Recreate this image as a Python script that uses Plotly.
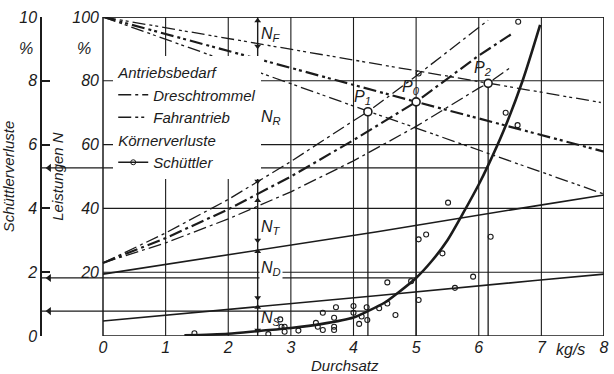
import plotly.graph_objects as go

# ------------------------------------------------------------------ data
X_TICKS = [0, 1, 2, 3, 4, 5, 6, 7, 8]
X_TICK_TEXT = ["0", "1", "2", "3", "4", "5", "6", "7", "8"]
N_TICKS = [20, 40, 60, 80, 100]
N_TICK_TEXT = ["20", "40", "60", "80", "100"]
LOSS_TICKS = [0, 2, 4, 6, 8, 10]
LOSS_TICK_TEXT = ["0", "2", "4", "6", "8", "10"]

# Antriebsbedarf Dreschtrommel (rising curves), one per operating point
DRUM_P1_X = [0, 1, 2, 3, 4, 4.23, 5, 6, 6.15]
DRUM_P1_Y = [22.9, 32.3, 42.8, 54.7, 67.5, 70.3, 81.5, 96.8, 99.0]
DRUM_P0_X = [0, 1, 2, 3, 4, 5, 6, 6.55]
DRUM_P0_Y = [22.9, 30.7, 39.7, 50.0, 61.4, 73.4, 87.9, 95.0]
DRUM_P2_X = [0, 1, 2, 3, 4, 5, 6, 6.15, 6.5]
DRUM_P2_Y = [22.9, 29.2, 36.7, 45.2, 54.9, 65.7, 77.7, 79.2, 84.1]

# Antriebsbedarf Fahrantrieb (falling lines: 100 % minus drive power)
DRIVE_P1_X = [0, 4.23, 8]
DRIVE_P1_Y = [100, 70.5, 44.5]
DRIVE_P0_X = [0, 5, 8]
DRIVE_P0_Y = [100, 73.4, 57.8]
DRIVE_P2_X = [0, 6.15, 7.95]
DRIVE_P2_Y = [100, 79.2, 73.2]

# further power lines
LINE_A_X = [0, 2.48, 4.38, 6.91, 8]
LINE_A_Y = [19.4, 27.0, 32.7, 40.8, 44.2]
LINE_B_X = [0, 1.5, 4.4, 6.9, 8]
LINE_B_Y = [4.7, 7.4, 12.7, 17.4, 19.4]

# Körnerverluste Schüttler (%), fitted curve and measured points
LOSS_CURVE_X = [1.3, 2.0, 2.5, 3.0, 3.5, 4.0, 4.23, 4.5, 4.7, 5.0, 5.25, 5.5,
                5.75, 6.0, 6.15, 6.4, 6.7, 6.98]
LOSS_CURVE_Y = [0.02, 0.07, 0.16, 0.25, 0.38, 0.58, 0.78, 1.05, 1.34, 1.82, 2.35,
                3.0, 3.85, 4.75, 5.35, 6.45, 8.0, 9.75]
LOSS_PTS_X = [1.46, 2.64, 2.83, 2.85, 2.9, 2.9, 3.12, 3.4, 3.43, 3.51, 3.51, 3.69,
              3.69, 3.69, 3.72, 4.0, 4.0, 4.09, 4.13, 4.21, 4.22, 4.41, 4.54, 4.54,
              4.67, 4.92, 5.04, 5.16, 5.42, 5.51, 5.62, 5.91, 5.04, 6.19, 6.43, 6.62,
              5.04, 6.63]
LOSS_PTS_Y = [0.085, 0.06, 0.52, 0.29, 0.29, 0.135, 0.17, 0.41, 0.29, 0.73, 0.19,
              0.57, 0.29, 0.19, 0.9, 0.94, 0.73, 0.38, 0.61, 0.9, 0.5, 0.87, 1.68,
              1.02, 0.66, 1.72, 3.03, 3.18, 2.59, 4.18, 1.51, 1.86, 1.13, 3.11, 7.0,
              6.61, 8.23, 9.85]

# operating points P1, P0, P2
P_NAMES = ["P<sub>1</sub>", "P<sub>0</sub>", "P<sub>2</sub>"]
P_X = [4.23, 5.0, 6.15]
P_N = [70.3, 73.4, 79.2]
P_LOSS = [0.78, 1.82, 5.27]

# power shares at the marked throughput
N_X = 2.47
N_NAMES = ["N<sub>F</sub>", "N<sub>R</sub>", "N<sub>T</sub>", "N<sub>D</sub>", "N<sub>S</sub>"]
N_LABEL_Y = [94.5, 68.5, 33.9, 21.3, 5.5]
N_ARROW_UP = [98.8, 86.0, 42.5, 26.5, 9.0]
N_ARROW_DOWN = [90.8, 48.5, 30.0, 12.0, 1.8]

# ------------------------------------------------------------------ style
FONT = "Liberation Sans Narrow, Liberation Sans, DejaVu Sans Condensed, sans-serif"
INK = "#1b1b1b"
X_LEFT = -0.99          # x-position of the loss axis (in throughput units)
X_MIN, X_MAX = 0, 8
N_MIN, N_MAX = 0, 100
L_MIN, L_MAX = 0, 10
DASH_DRUM = "13px,4px,3px,4px"
DASH_DRIVE = "13px,4px,3px,3px,3px,4px"

fig = go.Figure()

# grid + frame
for v in X_TICKS[1:]:
    fig.add_shape(type="line", xref="x", yref="y", x0=v, x1=v, y0=N_MIN, y1=N_MAX,
                  line=dict(color=INK, width=1.1), layer="below")
for v in N_TICKS:
    fig.add_shape(type="line", xref="x", yref="y", x0=X_MIN, x1=X_MAX, y0=v, y1=v,
                  line=dict(color=INK, width=1.1), layer="below")
fig.add_shape(type="rect", xref="x", yref="y", x0=X_MIN, x1=X_MAX, y0=N_MIN, y1=N_MAX,
              line=dict(color=INK, width=1.5), layer="below")

# Dreschtrommel (rising)
fig.add_trace(go.Scatter(x=DRUM_P2_X, y=DRUM_P2_Y, mode="lines", name="Dreschtrommel",
                         legendgroup="antrieb",
                         legendgrouptitle=dict(text="Antriebsbedarf"),
                         line=dict(color=INK, width=1.3, dash=DASH_DRUM)))
fig.add_trace(go.Scatter(x=DRIVE_P2_X, y=DRIVE_P2_Y, mode="lines", name="Fahrantrieb",
                         legendgroup="antrieb",
                         legendgrouptitle=dict(text="Antriebsbedarf"),
                         line=dict(color=INK, width=1.3, dash=DASH_DRIVE)))
fig.add_trace(go.Scatter(x=DRUM_P1_X, y=DRUM_P1_Y, mode="lines", showlegend=False,
                         line=dict(color=INK, width=1.3, dash=DASH_DRUM)))
fig.add_trace(go.Scatter(x=DRUM_P0_X, y=DRUM_P0_Y, mode="lines", showlegend=False,
                         line=dict(color=INK, width=2.2, dash=DASH_DRUM)))
fig.add_trace(go.Scatter(x=DRIVE_P1_X, y=DRIVE_P1_Y, mode="lines", showlegend=False,
                         line=dict(color=INK, width=1.3, dash=DASH_DRIVE)))
fig.add_trace(go.Scatter(x=DRIVE_P0_X, y=DRIVE_P0_Y, mode="lines", showlegend=False,
                         line=dict(color=INK, width=2.2, dash=DASH_DRIVE)))

# other power lines
fig.add_trace(go.Scatter(x=LINE_A_X, y=LINE_A_Y, mode="lines", showlegend=False,
                         line=dict(color=INK, width=1.6)))
fig.add_trace(go.Scatter(x=LINE_B_X, y=LINE_B_Y, mode="lines", showlegend=False,
                         line=dict(color=INK, width=1.6)))

# N construction at N_X
fig.add_trace(go.Scatter(x=[N_X, N_X], y=[N_MIN, N_MAX], mode="lines", showlegend=False,
                         line=dict(color=INK, width=1.4)))
fig.add_trace(go.Scatter(x=[N_X] * len(N_ARROW_UP), y=N_ARROW_UP, mode="markers",
                         showlegend=False,
                         marker=dict(symbol="triangle-up", size=6, color=INK)))
fig.add_trace(go.Scatter(x=[N_X] * len(N_ARROW_DOWN), y=N_ARROW_DOWN, mode="markers",
                         showlegend=False,
                         marker=dict(symbol="triangle-down", size=6, color=INK)))

# verticals through operating points
for px, pn in zip(P_X, P_N):
    fig.add_trace(go.Scatter(x=[px, px], y=[N_MIN, pn], mode="lines", showlegend=False,
                             line=dict(color=INK, width=1.3)))

# horizontals to the loss axis
for px, pl in zip(P_X, P_LOSS):
    fig.add_trace(go.Scatter(x=[X_LEFT, px], y=[pl, pl], yaxis="y2", mode="lines",
                             showlegend=False, line=dict(color=INK, width=1.3)))
fig.add_trace(go.Scatter(x=[X_LEFT + 0.13] * len(P_LOSS), y=P_LOSS, yaxis="y2",
                         mode="markers", showlegend=False,
                         marker=dict(symbol="triangle-left", size=7, color=INK)))

# Schüttler losses
fig.add_trace(go.Scatter(x=[None], y=[None], yaxis="y2", mode="lines+markers",
                         name="Schüttler", legendgroup="koerner",
                         legendgrouptitle=dict(text="Körnerverluste"),
                         line=dict(color=INK, width=1.6),
                         marker=dict(symbol="circle-open", size=5, color=INK)))
fig.add_trace(go.Scatter(x=LOSS_CURVE_X, y=LOSS_CURVE_Y, yaxis="y2", mode="lines",
                         showlegend=False,
                         line=dict(color=INK, width=2.6, shape="spline", smoothing=0.8)))
fig.add_trace(go.Scatter(x=LOSS_PTS_X, y=LOSS_PTS_Y, yaxis="y2", mode="markers",
                         showlegend=False,
                         marker=dict(symbol="circle-open", size=5, color=INK,
                                     line=dict(width=1.1, color=INK))))

# operating points
fig.add_trace(go.Scatter(x=P_X, y=P_N, mode="markers", showlegend=False,
                         marker=dict(symbol="circle", size=8, color="white",
                                     line=dict(width=1.6, color=INK))))

# annotations
ann = []
for name, px, pn in zip(P_NAMES, P_X, P_N):
    ann.append(dict(x=px, y=pn, xref="x", yref="y", text=name, showarrow=False,
                    xanchor="center", yanchor="bottom", yshift=3, xshift=-5,
                    font=dict(size=16)))
for name, ny in zip(N_NAMES, N_LABEL_Y):
    ann.append(dict(x=N_X, y=ny, xref="x", yref="y", text=name, showarrow=False,
                    xanchor="left", xshift=1, font=dict(size=16),
                    bgcolor="white" if name == "N<sub>D</sub>" else None))
ann.append(dict(x=X_MIN, y=90, xref="x", yref="y", text="%", showarrow=False,
                xanchor="right", xshift=-10, font=dict(size=16)))
ann.append(dict(x=0, y=9, xref="paper", yref="y2", text="%", showarrow=False,
                xanchor="right", xshift=-6, font=dict(size=16)))
ann.append(dict(x=7.46, y=0, xref="x", yref="paper", text="kg/s", showarrow=False,
                yanchor="top", yshift=-3, font=dict(size=16)))
ann.append(dict(x=3.87, y=0, xref="x", yref="paper", text="Durchsatz", showarrow=False,
                yanchor="top", yshift=-19, font=dict(size=15)))

fig.update_layout(
    width=614, height=374,
    margin=dict(l=40, r=5, t=17, b=38),
    paper_bgcolor="white", plot_bgcolor="white",
    font=dict(family=FONT, size=15, color=INK, style="italic"),
    annotations=ann,
    xaxis=dict(range=[X_LEFT, X_MAX], domain=[0, 1], showgrid=False, zeroline=False,
               showline=False, tickmode="array", tickvals=X_TICKS, ticktext=X_TICK_TEXT,
               ticks="", tickfont=dict(size=16, style="italic")),
    yaxis=dict(range=[N_MIN, N_MAX], anchor="free",
               position=-X_LEFT / (X_MAX - X_LEFT),
               showgrid=False, zeroline=False, showline=False, tickmode="array",
               tickvals=N_TICKS, ticktext=N_TICK_TEXT, ticks="",
               ticklabelstandoff=4,
               tickfont=dict(size=16, style="italic"),
               title=dict(text="Leistungen N", font=dict(size=15, style="italic"),
                          standoff=4)),
    yaxis2=dict(range=[L_MIN, L_MAX], overlaying="y", anchor="free", position=0,
                side="left", showgrid=False, zeroline=False, showline=True,
                linecolor=INK, linewidth=1.5, ticks="inside", ticklen=8,
                tickwidth=1.5, tickcolor=INK, tickmode="array",
                tickvals=LOSS_TICKS, ticktext=LOSS_TICK_TEXT,
                tickfont=dict(size=16, style="italic"),
                title=dict(text="Schüttlerverluste", font=dict(size=15, style="italic"),
                           standoff=4)),
    legend=dict(x=(113 - 40) / 569, y=1 - (56 - 17) / 319, xanchor="left",
                yanchor="top", bgcolor="white", borderwidth=0,
                font=dict(size=15, style="italic"),
                grouptitlefont=dict(size=15, style="italic"),
                tracegroupgap=0, traceorder="grouped", itemwidth=30),
)

fig.write_html("out.html", config={"displayModeBar": False},
               post_script="document.body.style.margin='0';")
